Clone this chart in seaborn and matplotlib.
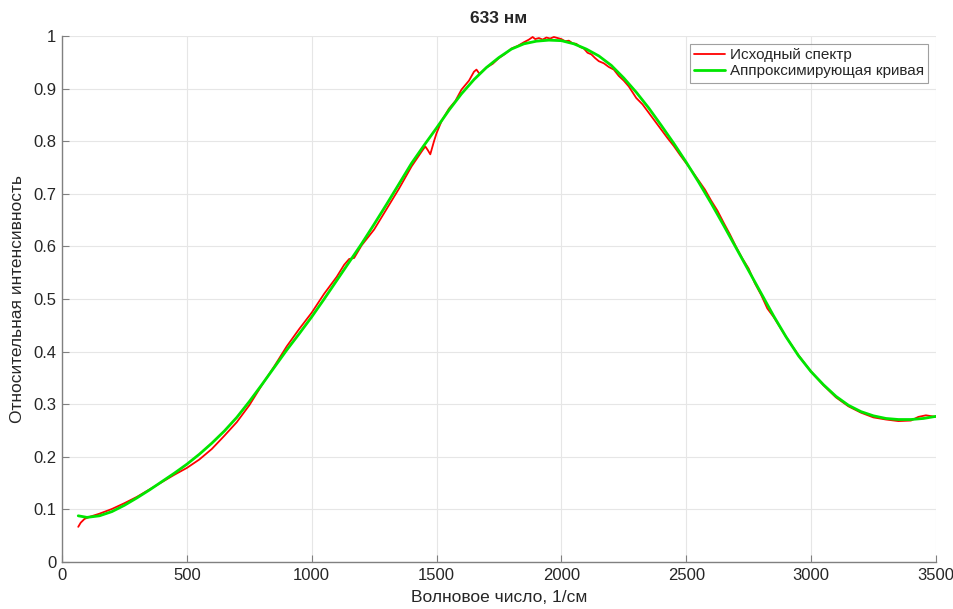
#!/usr/bin/env python3
"""
Spectrum 633 nm: source spectrum vs fitted curve
Usage: python plot.py
"""

import numpy as np
import pandas as pd
import matplotlib
matplotlib.use("Agg")
import matplotlib.pyplot as plt
import seaborn as sns

# Source spectrum
spec_x = [65, 75, 90, 110, 150, 200, 250, 300, 350, 400, 450, 500, 550, 600,
          650, 700, 750, 800, 850, 900, 950, 1000, 1050, 1100, 1130, 1150,
          1170, 1200, 1250, 1300, 1350, 1400, 1440, 1455, 1465, 1475, 1490,
          1500, 1520, 1550, 1575, 1600, 1630, 1650, 1660, 1672, 1700, 1725,
          1750, 1775, 1800, 1825, 1850, 1870, 1885, 1895, 1910, 1925, 1940,
          1955, 1970, 1985, 2000, 2015, 2030, 2045, 2060, 2075, 2090, 2105,
          2120, 2135, 2150, 2170, 2190, 2210, 2230, 2250, 2270, 2300, 2325,
          2350, 2375, 2400, 2425, 2450, 2475, 2500, 2525, 2550, 2575, 2600,
          2625, 2650, 2675, 2700, 2725, 2750, 2775, 2800, 2825, 2850, 2900,
          2950, 3000, 3050, 3100, 3150, 3200, 3250, 3300, 3350, 3400, 3430,
          3460, 3500]
spec_y = [0.067, 0.075, 0.082, 0.086, 0.092, 0.101, 0.112, 0.124, 0.138,
          0.152, 0.166, 0.179, 0.195, 0.215, 0.240, 0.266, 0.298, 0.336,
          0.372, 0.410, 0.443, 0.474, 0.510, 0.542, 0.565, 0.576, 0.578,
          0.602, 0.632, 0.671, 0.710, 0.752, 0.780, 0.790, 0.783, 0.775,
          0.800, 0.815, 0.838, 0.862, 0.876, 0.898, 0.915, 0.932, 0.936,
          0.928, 0.940, 0.947, 0.958, 0.966, 0.976, 0.981, 0.988, 0.993,
          0.998, 0.994, 0.996, 0.993, 0.997, 0.995, 0.998, 0.996, 0.994,
          0.990, 0.991, 0.986, 0.985, 0.979, 0.976, 0.968, 0.965, 0.958,
          0.952, 0.948, 0.941, 0.936, 0.924, 0.915, 0.904, 0.882, 0.870,
          0.854, 0.838, 0.822, 0.806, 0.791, 0.774, 0.758, 0.742, 0.725,
          0.708, 0.687, 0.668, 0.645, 0.623, 0.599, 0.577, 0.558, 0.530,
          0.508, 0.482, 0.466, 0.428, 0.393, 0.362, 0.336, 0.313, 0.296,
          0.284, 0.275, 0.271, 0.268, 0.269, 0.276, 0.279, 0.276]

# Fitted curve
fit_x = [65, 100, 150, 200, 250, 300, 350, 400, 450, 500, 550, 600, 650,
         700, 750, 800, 850, 900, 950, 1000, 1050, 1100, 1150, 1200, 1250,
         1300, 1350, 1400, 1450, 1500, 1550, 1600, 1650, 1700, 1750, 1800,
         1850, 1900, 1950, 2000, 2050, 2100, 2150, 2200, 2250, 2300, 2350,
         2400, 2450, 2500, 2550, 2600, 2650, 2700, 2750, 2800, 2850, 2900,
         2950, 3000, 3050, 3100, 3150, 3200, 3250, 3300, 3350, 3400, 3450,
         3500]
fit_y = [0.088, 0.085, 0.088, 0.096, 0.108, 0.122, 0.137, 0.153, 0.169,
         0.186, 0.205, 0.226, 0.249, 0.275, 0.305, 0.337, 0.370, 0.403,
         0.434, 0.466, 0.500, 0.535, 0.570, 0.605, 0.642, 0.680, 0.719,
         0.758, 0.792, 0.825, 0.859, 0.890, 0.917, 0.940, 0.959, 0.975,
         0.985, 0.990, 0.992, 0.991, 0.985, 0.975, 0.962, 0.944, 0.920,
         0.893, 0.863, 0.830, 0.796, 0.760, 0.722, 0.682, 0.640, 0.597,
         0.554, 0.511, 0.468, 0.428, 0.392, 0.362, 0.337, 0.315, 0.298,
         0.286, 0.278, 0.273, 0.271, 0.271, 0.273, 0.277]

spec = pd.DataFrame({"x": spec_x, "y": spec_y})
fit = pd.DataFrame({"x": fit_x, "y": fit_y})

sns.set_theme(style="whitegrid")
plt.rcParams["font.family"] = ["Liberation Sans", "DejaVu Sans"]

fig = plt.figure(figsize=(9.54, 6.09), dpi=100)
ax = fig.add_axes([0.065, 0.077, 0.916, 0.864])

sns.lineplot(data=spec, x="x", y="y", color="#ff0000", linewidth=1.3,
             label="Исходный спектр", ax=ax, sort=False)
sns.lineplot(data=fit, x="x", y="y", color="#00e600", linewidth=2.0,
             label="Аппроксимирующая кривая", ax=ax, sort=False)

ax.set_xlim(0, 3500)
ax.set_ylim(0, 1)
ax.set_xticks(np.arange(0, 3501, 500))
ax.set_yticks(np.arange(0, 1.01, 0.1))
ax.set_yticklabels(["0", "0.1", "0.2", "0.3", "0.4", "0.5", "0.6", "0.7",
                    "0.8", "0.9", "1"])
ax.grid(True, color="#e6e6e6", linewidth=0.8)

# MATLAB-like axes: box off, grey axis lines, ticks pointing inward
for side in ["top", "right"]:
    ax.spines[side].set_visible(False)
for side in ["left", "bottom"]:
    ax.spines[side].set_color("#808080")
    ax.spines[side].set_linewidth(1.0)

ax.tick_params(axis="both", direction="in", length=5, width=0.8,
               color="#808080", labelsize=12, labelcolor="#262626",
               left=True, bottom=True, pad=4)

ax.set_title("633 нм", fontsize=12.5, fontweight="bold", pad=9)
ax.set_xlabel("Волновое число, 1/см", fontsize=12.5, color="#262626",
              labelpad=5)
ax.set_ylabel("Относительная интенсивность", fontsize=12.5,
              color="#262626", labelpad=6)

leg = ax.legend(loc="upper right", fontsize=11, frameon=True, fancybox=False,
                handlelength=2.0, handletextpad=0.3, borderpad=0.3,
                labelspacing=0.15, borderaxespad=0.5)
leg.get_frame().set_edgecolor("#888888")
leg.get_frame().set_linewidth(0.8)

plt.savefig("out.png", dpi=100)
plt.close()
